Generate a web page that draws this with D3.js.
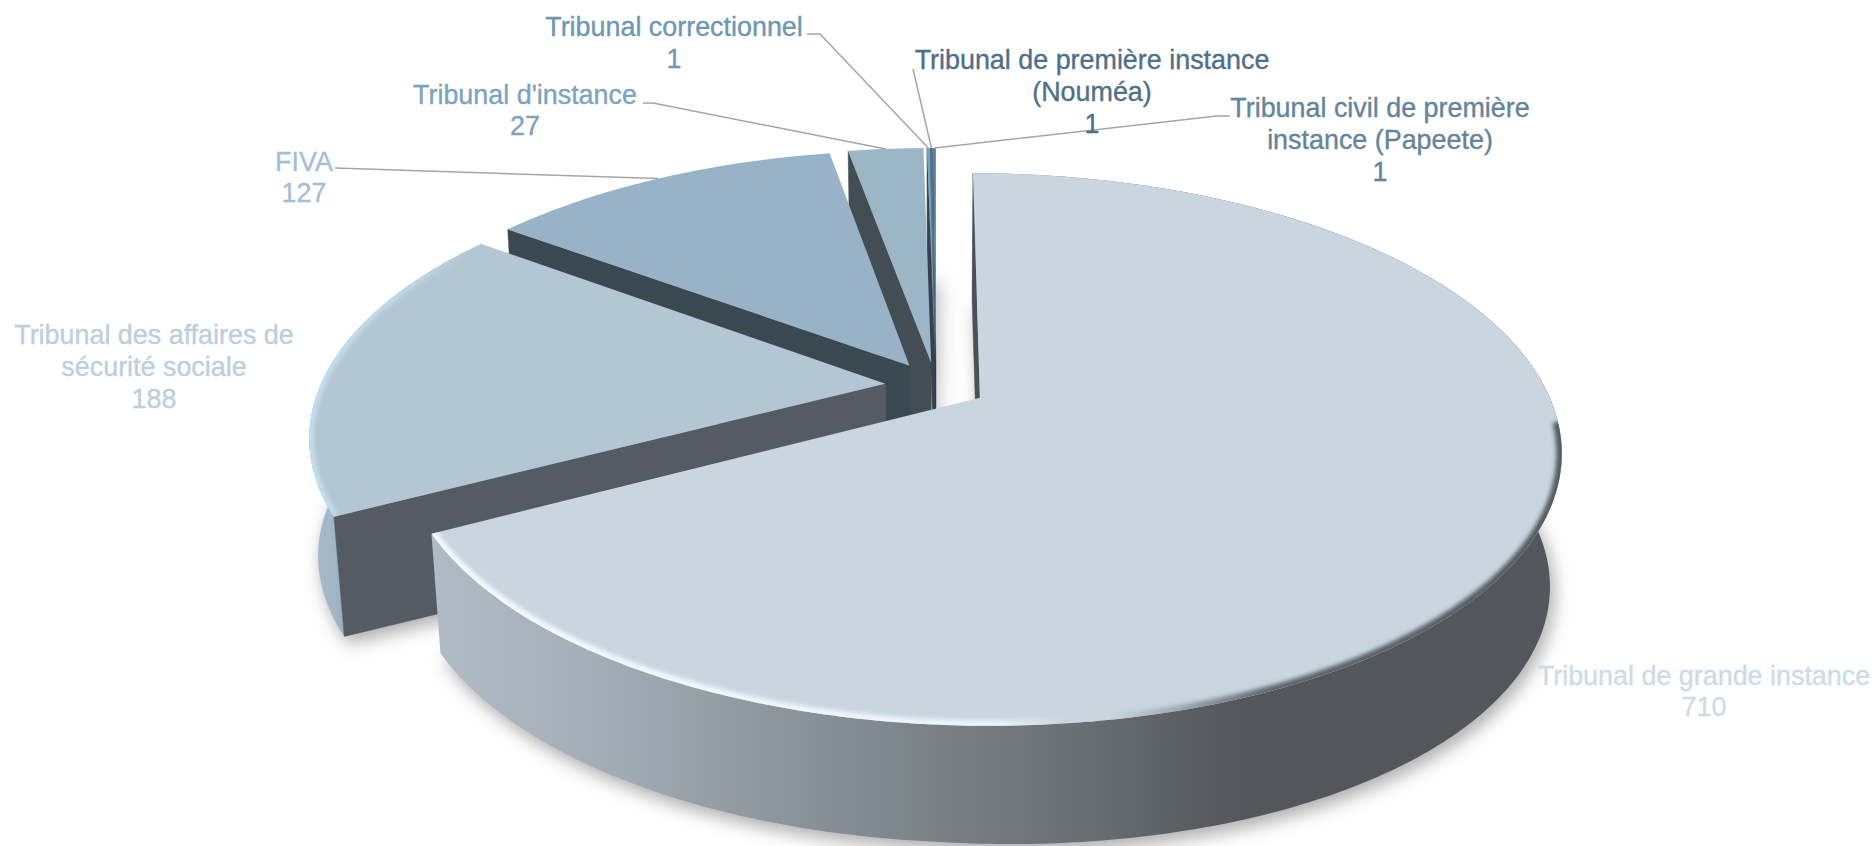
<!DOCTYPE html>
<html><head><meta charset="utf-8">
<style>html,body{margin:0;padding:0;background:#fff;overflow:hidden}svg{display:block}
text{font-family:"Liberation Sans",Arial,sans-serif;paint-order:stroke}</style>
<script src="https://cdnjs.cloudflare.com/ajax/libs/d3/7.8.5/d3.min.js"></script>
</head><body><svg id="c" width="1876" height="846"></svg>
<script>
const categories=["Tribunal de grande instance","Tribunal des affaires de sécurité sociale","FIVA","Tribunal d'instance","Tribunal correctionnel","Tribunal de première instance (Nouméa)","Tribunal civil de première instance (Papeete)"];
const values=[710,188,127,27,1,1,1];
const topColors=["#c9d6df","#b2c7d3","#98b3c8","#9cb6c8","#7ba1b8","#4f7189","#5f8299"];
const wallColors=["#545a60","#9db1c2","#8da6ba","#8da6ba","#5f7f95","#3f5a6e","#4b6a80"];
const faceColors=["#4a5055","#545b63","#3a4850","#434e54","#33434f","#28363f","#2f3f4a"];
const labelColors=["#cddbe6","#bccfdc","#a5bfd2","#7da3bc","#6f97b0","#4f6f88","#648499"];
const labelLines=[["Tribunal de grande instance","710"],["Tribunal des affaires de","sécurité sociale","188"],["FIVA","127"],["Tribunal d'instance","27"],["Tribunal correctionnel","1"],["Tribunal de première instance","(Nouméa)","1"],["Tribunal civil de première","instance (Papeete)","1"]];
const labelCenterX=[1704,154,304,525,674,1092,1380];
const labelFirstBaseline=[685,344,171,104,36,69,117];
const labelLineGap=[31,32,31,31,32,32,32];
const leaderStarts=[null,null,[[335,168]],[[643,103],[653,103]],[[807,34],[820,34]],[[913,69]],[[1230,116],[1217,116]]];

const Xc=936,Yc=385.5,A=565,B=262,P=0.1856,P2=0.19,EXPLODE=0.09,DEPTH=122,SHRINK=0.98,TILT=0.018;
const sx=d3.scaleLinear().domain([-1,1]).range([Xc-A,Xc+A]);
const sy=d3.scaleLinear().domain([-1,1]).range([Yc-B,Yc+B]);
const proj=(u,v)=>{const d=1-P*v;return [sx(u/d),sy(v/d)];};
const projLow=(u,v)=>{
 const s=SHRINK+(0.0075-0.015*Math.max(v,0))*Math.max(0,-u);
 const d=1-P2*v,X=Xc+s*(sx(u/d)-Xc);
 return [X,Yc+DEPTH+SHRINK*(sy(v/d)-Yc)+TILT*Math.max(0,X-Xc)];};
const arcs=d3.pie().sort(null).value(d=>d).startAngle(0).endAngle(2*Math.PI)(values);
const svg=d3.select("#c"),defs=svg.append("defs");
const line=d3.line();
const f1=defs.append("filter").attr("id","sh").attr("x","-20%").attr("y","-20%").attr("width","140%").attr("height","140%");
f1.append("feGaussianBlur").attr("stdDeviation",9);
const f2=defs.append("filter").attr("id","bev").attr("x","-20%").attr("y","-20%").attr("width","140%").attr("height","140%");
f2.append("feGaussianBlur").attr("stdDeviation",2.2);
const grad=(id,stops,x1,x2)=>{const g=defs.append("linearGradient").attr("id",id).attr("gradientUnits","userSpaceOnUse").attr("x1",x1).attr("x2",x2).attr("y1",0).attr("y2",0);
 stops.forEach(s=>g.append("stop").attr("offset",s[0]).attr("stop-color",s[1]).attr("stop-opacity",s[2]===undefined?1:s[2]));};
grad("w0",[[0,"#b0bcc5"],[.15,"#a3adb5"],[.35,"#868f96"],[.55,"#6c7376"],[.72,"#53565b"],[1,"#53565b"]],434,1560);
grad("w1",[[0,"#a5b8c8"],[1,"#8fa3b4"]],330,360);
grad("bev0",[[0,"#f2fafe",1],[.5,"#f2fafe",.85],[.56,"#f2fafe",0],[.6,"#4c5358",0],[.74,"#4c5358",.85],[1,"#4c5358",.95]],430,1565);
grad("bev1",[[0,"#c5dff1",1],[.6,"#c5dff1",.7],[1,"#c5dff1",0]],305,480);

const geo=arcs.map(a=>{
 const mid=(a.startAngle+a.endAngle)/2;
 const ox=EXPLODE*Math.sin(mid),oy=-EXPLODE*Math.cos(mid);
 const n=Math.max(2,Math.ceil((a.endAngle-a.startAngle)*80));
 const rim=d3.range(n+1).map(i=>{const t=a.startAngle+(a.endAngle-a.startAngle)*i/n;return [ox+Math.sin(t),oy-Math.cos(t)];});
 return {a,mid,ox,oy,rim};
});
// shadow
const gs=svg.append("g").attr("filter","url(#sh)").attr("fill","#000").attr("opacity",.33);
geo.forEach(g=>{const low=[[g.ox,g.oy],...g.rim].map(p=>projLow(p[0],p[1]));
 gs.append("path").attr("d",line(low)+"Z").attr("transform","translate(4,7)");});
// back-to-front
const order=[6,5,4,3,2,1,0];
order.forEach(i=>{const g=geo[i],G=svg.append("g");
 const first=g.rim[0],c=[g.ox,g.oy];
 const quad=(p,q)=>[proj(...p),proj(...q),projLow(...q),projLow(...p)];
 const wall=[...g.rim.map(p=>proj(...p)),...g.rim.slice().reverse().map(p=>projLow(...p))];
 if(i<2) G.append("path").attr("d",line(wall)+"Z").attr("fill",`url(#w${i})`);
 G.append("path").attr("d",line(quad(c,first))+"Z").attr("fill",faceColors[i]).attr("stroke",faceColors[i]).attr("stroke-width",.5);
 const top=[proj(...c),...g.rim.map(p=>proj(...p))];
 G.append("path").attr("d",line(top)+"Z").attr("fill",topColors[i]);
 if(i<2){
  defs.append("clipPath").attr("id","cp"+i).append("path").attr("d",line(top)+"Z");
  const edge=i===0?g.rim.filter(p=>p[1]>0.13):g.rim;
  G.append("g").attr("clip-path",`url(#cp${i})`).append("path")
   .attr("d",line(edge.map(p=>proj(...p)))).attr("fill","none")
   .attr("stroke",`url(#bev${i})`).attr("stroke-width",i===0?11:9).attr("filter","url(#bev)");
 }
});
// leaders
const rimPoint=i=>{const g=geo[i];return proj(g.ox+Math.sin(g.mid),g.oy-Math.cos(g.mid));};
leaderStarts.forEach((s,i)=>{ if(!s) return;
 svg.append("path").attr("d",line([...s,rimPoint(i)])).attr("fill","none").attr("stroke","#a6a6a6").attr("stroke-width",1.5);});
// labels
labelLines.forEach((ls,i)=>{ls.forEach((t,j)=>{
 svg.append("text").attr("x",labelCenterX[i]).attr("y",labelFirstBaseline[i]+j*labelLineGap[i])
  .attr("text-anchor","middle").attr("font-size",26.9).attr("fill",labelColors[i])
  .attr("stroke",labelColors[i]).attr("stroke-width",.35).text(t);});});
</script></body></html>
